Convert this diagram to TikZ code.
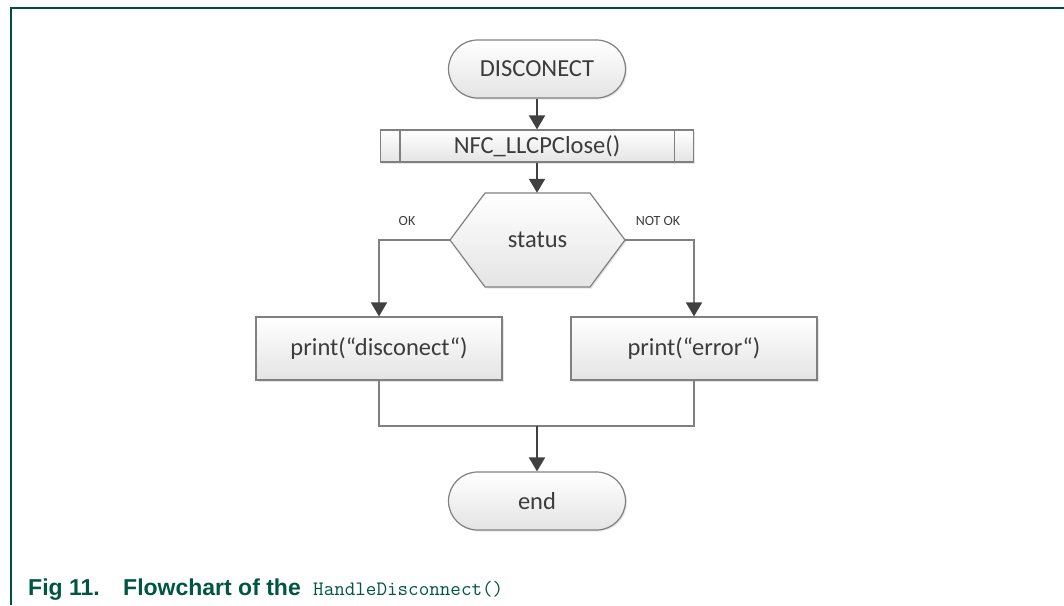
\documentclass[tikz,border=0pt]{standalone}
\usepackage{fontspec}
\setmainfont{Carlito}
\newfontfamily\capfont{Liberation Sans}
\usetikzlibrary{shapes.misc,arrows.meta,shadows,calc}
\definecolor{framegreen}{RGB}{0,80,60}
\definecolor{capgreen}{RGB}{0,86,64}
\definecolor{boxline}{RGB}{128,128,128}
\definecolor{flowdark}{RGB}{64,64,64}
\definecolor{txt}{RGB}{60,60,60}
\definecolor{boxbot}{RGB}{228,228,228}
\begin{document}
\begin{tikzpicture}[x=1pt,y=-1pt,
  box/.style={draw=boxline, line width=1.2pt, top color=white, bottom color=boxbot,
    drop shadow={shadow xshift=1.5pt,shadow yshift=-1.5pt,opacity=0.2}},
  boxtext/.style={text=txt, font=\fontsize{24.5}{28}\selectfont},
  term/.style={box, boxtext, rounded rectangle, minimum width=177pt, minimum height=58pt, inner sep=0pt},
  proc/.style={box, boxtext, rectangle, minimum width=246pt, minimum height=63pt, inner sep=0pt},
  flow/.style={draw=flowdark, line width=2pt, -{Triangle[width=16pt,length=14pt]}},
  branch/.style={draw=boxline, line width=1.8pt, -{Triangle[width=16pt,length=14pt,color=flowdark]}},
  joinline/.style={draw=boxline, line width=1.8pt},
  lbl/.style={text=txt, font=\fontsize{14}{16}\selectfont, inner sep=0pt},
  captext/.style={anchor=base west, inner sep=0pt, text=capgreen},
]
\useasboundingbox (0,0) rectangle (1064,605);

% page frame
\draw[framegreen, line width=2pt] (1064,8) -- (11,8) -- (11,605);

% start terminal
\node[term] (start) at (537,69) {DISCONECT};

% predefined process
\node[box, boxtext, rectangle, minimum width=313pt, minimum height=32pt, inner sep=0pt] (nfc) at (537,146) {NFC\_LLCPClose()};
\draw[boxline, line width=1.2pt] ($(nfc.north west)+(20,0)$) -- ($(nfc.south west)+(20,0)$);
\draw[boxline, line width=1.2pt] ($(nfc.north east)+(-20,0)$) -- ($(nfc.south east)+(-20,0)$);

% decision hexagon
\path[box] (450,240) -- (485,193) -- (590,193) -- (625,240) -- (590,287) -- (485,287) -- cycle;
\node[boxtext, minimum width=175pt, minimum height=94pt, inner sep=0pt] (st) at (537.5,240) {status};

% branch outcomes
\node[proc] (ok) at (379,348.5) {print(“disconect“)};
\node[proc] (err) at (694,348.5) {print(“error“)};

% end terminal
\node[term] (end) at (537,501) {end};

% labels
\node[lbl] (oklbl) at (407,221) {OK};
\node[lbl] (nolbl) at (658,221) {NOT OK};

% connectors
\draw[flow] (start.south) -- (start.south |- nfc.north);
\draw[flow] (nfc.south) -- (nfc.south |- st.north);
\draw[branch] (st.west) -| (ok.north);
\draw[branch] (st.east) -| (err.north);
\coordinate (m) at (537,426);
\draw[joinline] (ok.south) -- (ok.south |- m) -- (err.south |- m) -- (err.south);
\draw[flow] (m) -- (end.north);

% caption
\node[captext, font=\capfont\bfseries\fontsize{23}{27}\selectfont] (fig) at (28,595) {Fig 11.};
\node[captext, font=\capfont\bfseries\fontsize{23}{27}\selectfont] (cap) at (123,595) {Flowchart of the};
\node[captext, font=\ttfamily\fontsize{20.5}{23}\selectfont] (code) at (313,595) {HandleDisconnect()};
\end{tikzpicture}
\end{document}
